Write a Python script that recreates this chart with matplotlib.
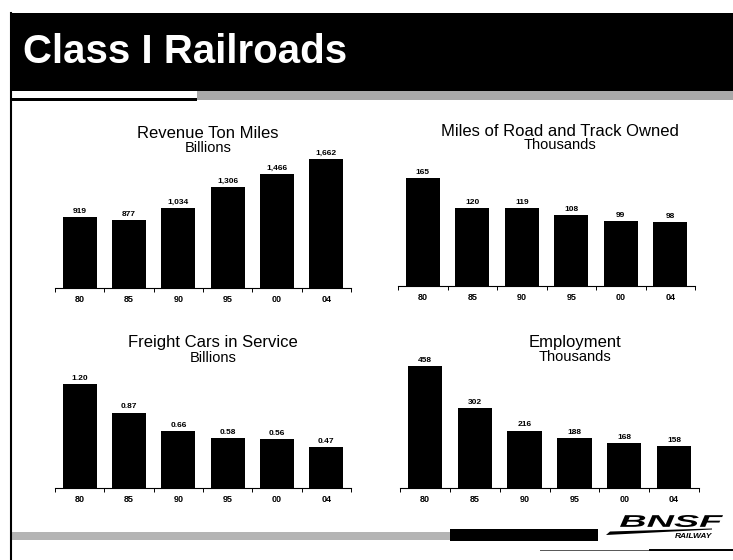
import numpy as np
import matplotlib
matplotlib.use("Agg")
import matplotlib.pyplot as plt
from matplotlib.patches import Rectangle, PathPatch, Polygon
from matplotlib.textpath import TextPath
from matplotlib.font_manager import FontProperties
from matplotlib.transforms import Affine2D

W, H = 733, 560

years = ['80', '85', '90', '95', '00', '04']
ton_miles = [919, 877, 1034, 1306, 1466, 1662]
road_miles = [165, 120, 119, 108, 99, 98]
freight_cars = [1.20, 0.87, 0.66, 0.58, 0.56, 0.47]
employment = [458, 302, 216, 188, 168, 158]

plt.rcParams['font.family'] = ['Liberation Sans', 'DejaVu Sans']

fig = plt.figure(figsize=(W / 100, H / 100), dpi=100)

# full-page layer in pixel units (y downwards) for the slide furniture
bg = fig.add_axes([0, 0, 1, 1])
bg.set_xlim(0, W)
bg.set_ylim(H, 0)
bg.axis('off')

# header band
bg.add_patch(Rectangle((10, 13), W - 10, 78, color='black', lw=0))
bg.add_patch(Rectangle((197, 91), W - 197, 9, color='#a9a9a9', lw=0))
bg.add_patch(Rectangle((10, 98), 187, 3, color='black', lw=0))
bg.plot([11, 11], [13, H], color='black', lw=1.5)
bg.text(23, 63, 'Class I Railroads', color='white', fontsize=29,
        fontweight='bold', va='baseline', ha='left')

# footer
bg.add_patch(Rectangle((12, 532), 438, 8, color='#b4b4b4', lw=0))
bg.add_patch(Rectangle((450, 529), 148, 12, color='black', lw=0))
bg.plot([540, W], [550, 550], color='#555555', lw=0.7)
bg.plot([650, W], [550, 550], color='black', lw=1.4)

# BNSF logo
logo_font = FontProperties(family='Liberation Sans', weight='bold', style='italic')
tp = TextPath((0, 0), 'BNSF', size=10, prop=logo_font)
ext = tp.get_extents()
sx = 103 / ext.width
sy = 12 / ext.height
trans = Affine2D().translate(-ext.x0, -ext.y0).scale(sx, -sy).translate(620, 527)
bg.add_patch(PathPatch(trans.transform_path(tp), color='black', lw=0))
bg.add_patch(Polygon([(606, 535), (610, 531.5), (712, 528.5), (712, 529.5)],
                     closed=True, color='black', lw=0))
bg.text(712, 538, 'RAILWAY', fontsize=6, fontweight='bold', style='italic',
        ha='right', va='baseline')

panels = [
    # values, label format, left, width, baseline, ymax, px per unit,
    # title, subtitle, title x, title y, subtitle y
    (ton_miles, '{:,}', 55, 296, 288, 1800, 0.0776,
     'Revenue Ton Miles', 'Billions', 208, 134, 148),
    (road_miles, '{:,}', 398, 297, 286, 190, 0.653,
     'Miles of Road and Track Owned', 'Thousands', 560, 131, 145),
    (freight_cars, '{:.2f}', 55, 296, 488, 1.4, 86.7,
     'Freight Cars in Service', 'Billions', 213, 343, 358),
    (employment, '{:,}', 400, 299, 488, 500, 0.266,
     'Employment', 'Thousands', 575, 342, 357),
]

for vals, fmt, left, width, base, ymax, scale, title, sub, tx, ty, sy_ in panels:
    h = ymax * scale
    ax = fig.add_axes([left / W, 1 - base / H, width / W, h / H])
    ax.set_facecolor('none')
    bars = ax.bar(range(len(vals)), vals, width=0.69, color='black')
    ax.bar_label(bars, labels=[fmt.format(v) for v in vals], padding=1.5,
                 fontsize=6, fontweight='bold')
    ax.set_xlim(-0.5, len(vals) - 0.5)
    ax.set_ylim(0, ymax)
    ax.set_yticks([])
    ax.set_xticks(range(len(vals)), years)
    ax.set_xticks(np.arange(-0.5, len(vals), 1), minor=True)
    ax.tick_params(axis='x', which='major', length=0, pad=5, labelsize=6.5)
    for lbl in ax.get_xticklabels():
        lbl.set_fontweight('bold')
    ax.tick_params(axis='x', which='minor', length=3, width=0.7, direction='out')
    for side in ['left', 'right', 'top']:
        ax.spines[side].set_visible(False)
    ax.spines['bottom'].set_linewidth(0.8)
    bg.text(tx, ty, title, fontsize=12, ha='center', va='center')
    bg.text(tx, sy_, sub, fontsize=10.5, ha='center', va='center')

fig.savefig('out.png', dpi=100)
